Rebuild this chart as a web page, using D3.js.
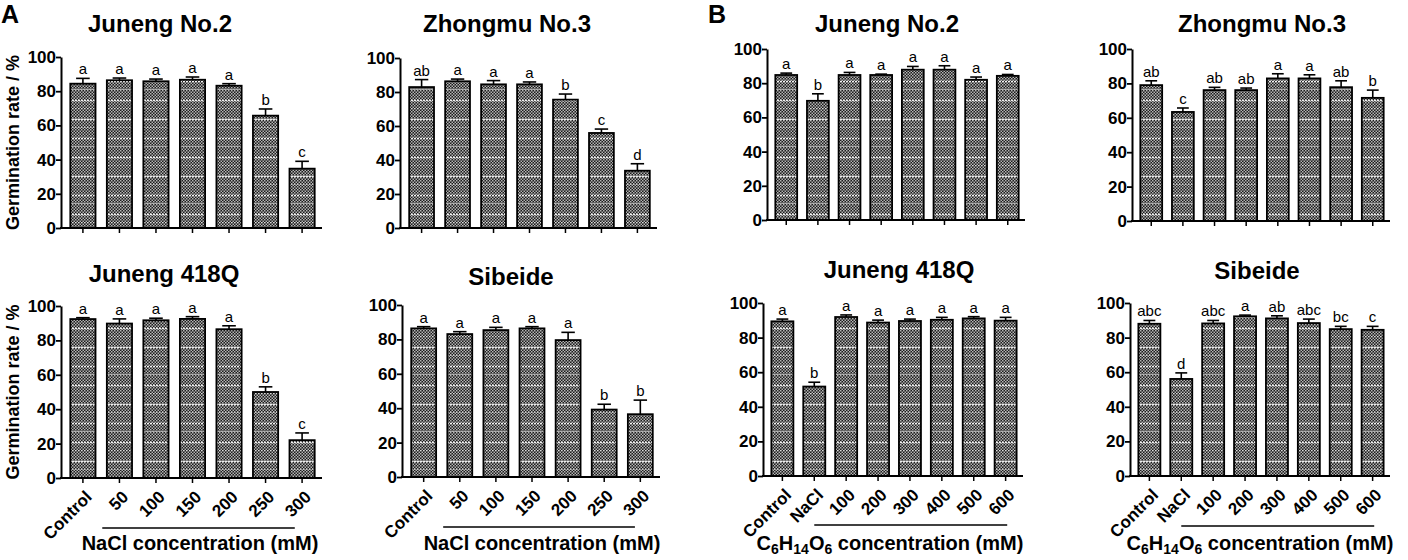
<!DOCTYPE html>
<html>
<head>
<meta charset="utf-8">
<script src="https://d3js.org/d3.v7.min.js"></script>
<style>
  body { margin: 0; background: #fff; }
  svg { display: block; font-family: "Liberation Sans", Arial, sans-serif; }
  .yax text { font-size: 17px; font-weight: bold; fill: #000; font-family: "Liberation Sans", Arial, sans-serif; }
  .xax text { font-size: 17px; font-weight: bold; fill: #000; font-family: "Liberation Sans", Arial, sans-serif; }
</style>
</head>
<body>
<script>
'use strict';

// categories
var naclCats = ['Control', '50', '100', '150', '200', '250', '300'];
var mannCats = ['Control', 'NaCl', '100', '200', '300', '400', '500', '600'];
var yTicks = [0, 20, 40, 60, 80, 100];

// A: NaCl series (mean, SE, letters)
var aJun2Mean = [84.4, 86.4, 85.8, 86.7, 83.2, 65.7, 34.7];
var aJun2Err = [3.1, 1.3, 1.3, 1.6, 1.2, 3.9, 4.3];
var aJun2Sig = ['a', 'a', 'a', 'a', 'a', 'b', 'c'];

var aZhoMean = [82.9, 86.3, 84.5, 84.5, 75.5, 55.9, 33.7];
var aZhoErr = [4.4, 1.3, 2.2, 1.4, 3.3, 2.3, 4.1];
var aZhoSig = ['ab', 'a', 'a', 'a', 'b', 'c', 'd'];

var aJ418Mean = [92.4, 89.8, 91.7, 92.5, 86.5, 50.0, 22.0];
var aJ418Err = [0.8, 2.7, 1.2, 1.3, 2.0, 3.0, 4.2];
var aJ418Sig = ['a', 'a', 'a', 'a', 'a', 'b', 'c'];

var aSibMean = [86.4, 83.1, 85.4, 86.4, 79.6, 39.2, 36.5];
var aSibErr = [1.0, 1.4, 1.6, 1.0, 4.5, 3.1, 8.2];
var aSibSig = ['a', 'a', 'a', 'a', 'a', 'b', 'b'];

// B: mannitol series
var bJun2Mean = [84.8, 69.7, 84.8, 84.8, 87.9, 87.9, 82.0, 84.3];
var bJun2Err = [1.1, 4.1, 1.5, 0.5, 1.9, 2.3, 1.6, 0.8];
var bJun2Sig = ['a', 'b', 'a', 'a', 'a', 'a', 'a', 'a'];

var bZhoMean = [79.0, 63.4, 76.1, 76.1, 82.9, 82.9, 77.8, 71.6];
var bZhoErr = [2.5, 2.3, 1.6, 1.2, 2.7, 2.1, 3.7, 4.5];
var bZhoSig = ['ab', 'c', 'ab', 'ab', 'a', 'a', 'ab', 'b'];

var bJ418Mean = [89.4, 51.7, 91.9, 88.7, 89.6, 90.3, 91.1, 89.8];
var bJ418Err = [1.3, 2.5, 1.2, 1.4, 1.1, 1.4, 1.0, 1.9];
var bJ418Sig = ['a', 'b', 'a', 'a', 'a', 'a', 'a', 'a'];

var bSibMean = [88.0, 56.1, 88.2, 92.3, 91.1, 88.4, 84.9, 84.5];
var bSibErr = [1.9, 3.5, 1.7, 0.7, 1.5, 2.3, 1.6, 2.0];
var bSibSig = ['abc', 'd', 'abc', 'a', 'ab', 'abc', 'bc', 'c'];

var W = 1408, H = 560;
var svg = d3.select('body').append('svg').attr('width', W).attr('height', H);

// bar fill: dark checker texture with light dashed streaks
var defs = svg.append('defs');
var dots = defs.append('pattern').attr('id', 'dots')
  .attr('patternUnits', 'userSpaceOnUse').attr('width', 3).attr('height', 3);
dots.append('rect').attr('width', 3).attr('height', 3).attr('fill', '#1c1c1c');
dots.append('rect').attr('width', 1.5).attr('height', 1.5).attr('fill', '#b4b4b4');
dots.append('rect').attr('x', 1.5).attr('y', 1.5).attr('width', 1.5).attr('height', 1.5).attr('fill', '#b4b4b4');

var streaks = defs.append('pattern').attr('id', 'streaks')
  .attr('patternUnits', 'userSpaceOnUse').attr('width', 6).attr('height', 19);
streaks.append('line').attr('x1', 0).attr('x2', 6).attr('y1', 5.5).attr('y2', 5.5)
  .attr('stroke', '#fff').attr('stroke-width', 1.3).attr('stroke-dasharray', '2,1').attr('opacity', 0.9);
streaks.append('line').attr('x1', 0).attr('x2', 6).attr('y1', 13.5).attr('y2', 13.5)
  .attr('stroke', '#eee').attr('stroke-width', 1).attr('stroke-dasharray', '1.5,1.5').attr('opacity', 0.7);

var panels = [
  {title: 'Juneng No.2', cats: naclCats, mean: aJun2Mean, err: aJun2Err, sig: aJun2Sig,
   left: 61, right: 322, top: 57, bottom: 228, tx: 160, ty: 32, ylab: true, xlab: false},
  {title: 'Zhongmu No.3', cats: naclCats, mean: aZhoMean, err: aZhoErr, sig: aZhoSig,
   left: 400, right: 657, top: 58, bottom: 228, tx: 507, ty: 32, ylab: false, xlab: false},
  {title: 'Juneng 418Q', cats: naclCats, mean: aJ418Mean, err: aJ418Err, sig: aJ418Sig,
   left: 61, right: 322, top: 306, bottom: 478, tx: 164, ty: 282, ylab: true, xlab: true,
   group: 'nacl', g0: 1, k0: 0.47, k1: -0.2, gy: 528, gx: 200},
  {title: 'Sibeide', cats: naclCats, mean: aSibMean, err: aSibErr, sig: aSibSig,
   left: 402, right: 660, top: 305, bottom: 477, tx: 511, ty: 285, ylab: false, xlab: true,
   group: 'nacl', g0: 1, k0: 0.46, k1: -0.15, gy: 527, gx: 542},
  {title: 'Juneng No.2', cats: mannCats, mean: bJun2Mean, err: bJun2Err, sig: bJun2Sig,
   left: 767, right: 1025, top: 49, bottom: 220, tx: 887, ty: 32, ylab: false, xlab: false},
  {title: 'Zhongmu No.3', cats: mannCats, mean: bZhoMean, err: bZhoErr, sig: bZhoSig,
   left: 1132, right: 1390, top: 49, bottom: 221, tx: 1262, ty: 32, ylab: false, xlab: false},
  {title: 'Juneng 418Q', cats: mannCats, mean: bJ418Mean, err: bJ418Err, sig: bJ418Sig,
   left: 763, right: 1023, top: 303, bottom: 476, tx: 899, ty: 278, ylab: false, xlab: true,
   group: 'mann', g0: 2, k0: 1.0, k1: 0.05, gy: 525, gx: 890},
  {title: 'Sibeide', cats: mannCats, mean: bSibMean, err: bSibErr, sig: bSibSig,
   left: 1130, right: 1390, top: 303, bottom: 476, tx: 1257, ty: 279, ylab: false, xlab: true,
   group: 'mann', g0: 2, k0: 1.0, k1: 0.05, gy: 526, gx: 1260}
];

function drawPanel(p) {
  var g = svg.append('g');
  var x = d3.scaleBand().domain(p.cats).range([p.left + 2, p.right])
    .paddingInner(0.31).paddingOuter(0.2);
  var y = d3.scaleLinear().domain([0, 100]).range([p.bottom, p.top]);
  var rows = p.cats.map(function(c, i) {
    return {cat: c, mean: p.mean[i], err: p.err[i], sig: p.sig[i]};
  });

  // title
  g.append('text').attr('x', p.tx).attr('y', p.ty).attr('text-anchor', 'middle')
    .attr('font-size', 24).attr('font-weight', 'bold').text(p.title);

  // bars
  var bars = g.selectAll('.bar').data(rows).enter().append('g');
  bars.append('rect').attr('x', function(d) { return x(d.cat); })
    .attr('y', function(d) { return y(d.mean); })
    .attr('width', x.bandwidth())
    .attr('height', function(d) { return y(0) - y(d.mean); })
    .attr('fill', 'url(#dots)');
  bars.append('rect').attr('x', function(d) { return x(d.cat); })
    .attr('y', function(d) { return y(d.mean); })
    .attr('width', x.bandwidth())
    .attr('height', function(d) { return y(0) - y(d.mean); })
    .attr('fill', 'url(#streaks)')
    .attr('stroke', '#000').attr('stroke-width', 1.8);

  // upper error bars
  var cx = function(d) { return x(d.cat) + x.bandwidth() / 2; };
  bars.append('line').attr('x1', cx).attr('x2', cx)
    .attr('y1', function(d) { return y(d.mean); })
    .attr('y2', function(d) { return y(d.mean + d.err); })
    .attr('stroke', '#000').attr('stroke-width', 1.6);
  bars.append('line')
    .attr('x1', function(d) { return cx(d) - x.bandwidth() * 0.27; })
    .attr('x2', function(d) { return cx(d) + x.bandwidth() * 0.27; })
    .attr('y1', function(d) { return y(d.mean + d.err); })
    .attr('y2', function(d) { return y(d.mean + d.err); })
    .attr('stroke', '#000').attr('stroke-width', 1.6);

  // significance letters
  bars.append('text').attr('x', cx)
    .attr('y', function(d) { return y(d.mean + d.err) - 4; })
    .attr('text-anchor', 'middle').attr('font-size', 15)
    .text(function(d) { return d.sig; });

  // y axis
  var ya = g.append('g').attr('class', 'yax').attr('transform', 'translate(' + p.left + ',0)')
    .call(d3.axisLeft(y).tickValues(yTicks).tickSize(5).tickSizeOuter(0).tickPadding(0));
  ya.select('.domain').attr('stroke-width', 2);
  ya.selectAll('.tick line').attr('stroke-width', 1.8);

  // x axis
  var xa = g.append('g').attr('class', 'xax').attr('transform', 'translate(0,' + p.bottom + ')')
    .call(d3.axisBottom(x).tickSize(5).tickSizeOuter(0));
  xa.select('.domain').remove();
  xa.selectAll('.tick line').attr('stroke-width', 1.5);
  g.append('line').attr('x1', p.left - 1).attr('x2', p.right)
    .attr('y1', p.bottom).attr('y2', p.bottom)
    .attr('stroke', '#000').attr('stroke-width', 2);
  if (p.xlab) {
    xa.selectAll('text').attr('y', 0).attr('dy', 0)
      .attr('transform', 'translate(10,20) rotate(-45)')
      .attr('text-anchor', 'end');
  } else {
    xa.selectAll('text').remove();
  }

  if (p.ylab) {
    g.append('text')
      .attr('transform', 'translate(19,' + ((p.top + p.bottom) / 2) + ') rotate(-90)')
      .attr('text-anchor', 'middle').attr('font-size', 18).attr('font-weight', 'bold')
      .text('Germination rate / %');
  }

  if (p.group) {
    var step = x.step();
    var last = p.cats[p.cats.length - 1];
    var lx0 = x(p.cats[p.g0]) + x.bandwidth() / 2 - p.k0 * step;
    var lx1 = x(last) + x.bandwidth() / 2 + p.k1 * step;
    g.append('line').attr('x1', lx0).attr('x2', lx1).attr('y1', p.gy).attr('y2', p.gy)
      .attr('stroke', '#000').attr('stroke-width', 1.5);
    var lab = g.append('text').attr('x', p.gx).attr('y', 550).attr('text-anchor', 'middle')
      .attr('font-size', 20).attr('font-weight', 'bold');
    if (p.group === 'nacl') {
      lab.text('NaCl concentration (mM)');
    } else {
      lab.append('tspan').text('C');
      lab.append('tspan').attr('font-size', 14).attr('dy', 4).text('6');
      lab.append('tspan').attr('dy', -4).text('H');
      lab.append('tspan').attr('font-size', 14).attr('dy', 4).text('14');
      lab.append('tspan').attr('dy', -4).text('O');
      lab.append('tspan').attr('font-size', 14).attr('dy', 4).text('6');
      lab.append('tspan').attr('dy', -4).text(' concentration (mM)');
    }
  }
}

panels.forEach(drawPanel);

// panel letters
svg.append('text').attr('x', 1).attr('y', 23).attr('font-size', 25).attr('font-weight', 'bold').text('A');
svg.append('text').attr('x', 708).attr('y', 23).attr('font-size', 25).attr('font-weight', 'bold').text('B');
</script>
</body>
</html>
